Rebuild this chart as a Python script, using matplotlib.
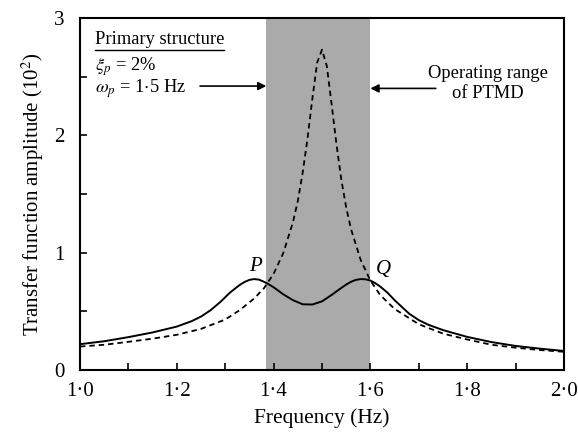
import matplotlib
matplotlib.use("Agg")
import matplotlib.pyplot as plt
from matplotlib.ticker import MultipleLocator, FuncFormatter

plt.rcParams['font.family'] = ['Liberation Serif', 'DejaVu Serif']
plt.rcParams['mathtext.fontset'] = 'stix'

# Uncontrolled primary structure (dashed)
freq_primary = [1.00, 1.05, 1.10, 1.15, 1.20, 1.25, 1.30, 1.33, 1.36, 1.38,
                1.40, 1.42, 1.44, 1.45, 1.46, 1.47, 1.48, 1.49, 1.50, 1.51,
                1.52, 1.53, 1.54, 1.55, 1.56, 1.58, 1.60, 1.62, 1.65, 1.70,
                1.75, 1.80, 1.85, 1.90, 1.95, 2.00]
amp_primary = [0.20, 0.215, 0.24, 0.267, 0.30, 0.35, 0.43, 0.51, 0.61, 0.696,
               0.82, 0.996, 1.26, 1.44, 1.68, 1.97, 2.31, 2.62, 2.73, 2.59,
               2.26, 1.92, 1.62, 1.385, 1.20, 0.937, 0.762, 0.64, 0.52, 0.39,
               0.31, 0.26, 0.215, 0.19, 0.17, 0.155]

# Structure with PTMD (solid)
freq_ptmd = [1.00, 1.05, 1.10, 1.15, 1.20, 1.23, 1.25, 1.27, 1.29, 1.31,
             1.33, 1.34, 1.35, 1.36, 1.37, 1.38, 1.39, 1.40, 1.42, 1.44,
             1.46, 1.48, 1.50, 1.52, 1.54, 1.55, 1.56, 1.57, 1.58, 1.59,
             1.60, 1.61, 1.62, 1.635, 1.65, 1.68, 1.70, 1.72, 1.75, 1.80,
             1.85, 1.90, 1.95, 2.00]
amp_ptmd = [0.22, 0.245, 0.28, 0.32, 0.37, 0.415, 0.455, 0.51, 0.58, 0.66,
            0.725, 0.75, 0.768, 0.775, 0.77, 0.752, 0.73, 0.705, 0.645, 0.595,
            0.56, 0.558, 0.585, 0.64, 0.70, 0.728, 0.752, 0.768, 0.775, 0.773,
            0.762, 0.74, 0.712, 0.66, 0.595, 0.48, 0.425, 0.385, 0.34, 0.282,
            0.238, 0.205, 0.182, 0.162]

band = (1.385, 1.60)

fig = plt.figure(figsize=(5.78, 4.34), dpi=100)
ax = fig.add_axes([0.1384, 0.1475, 0.8374, 0.811])

ax.axvspan(band[0], band[1], color='#aaaaaa', lw=0, zorder=0)
ax.plot(freq_primary, amp_primary, color='black', lw=1.3, dashes=(3.0, 2.2))
ax.plot(freq_ptmd, amp_ptmd, color='black', lw=1.4)

ax.set_xlim(1.0, 2.0)
ax.set_ylim(0, 3)
ax.xaxis.set_major_locator(MultipleLocator(0.2))
ax.xaxis.set_minor_locator(MultipleLocator(0.1))
ax.yaxis.set_major_locator(MultipleLocator(1))
ax.yaxis.set_minor_locator(MultipleLocator(0.5))
ax.xaxis.set_major_formatter(FuncFormatter(lambda v, p: f"{v:.1f}".replace('.', '\u00b7')))
ax.yaxis.set_major_formatter(FuncFormatter(lambda v, p: f"{v:.0f}"))
ax.tick_params(which='both', direction='in', labelsize=15, width=1.2)
ax.tick_params(axis='x', pad=9)
ax.tick_params(axis='y', pad=11)
ax.tick_params(which='major', length=5)
ax.tick_params(which='minor', length=5)
for s in ax.spines.values():
    s.set_linewidth(1.5)

ax.set_xlabel('Frequency (Hz)', fontsize=15.5, labelpad=5)
ax.set_ylabel('Transfer function amplitude (10$^2$)', fontsize=15, labelpad=6)

# annotations
ax.text(1.031, 2.82, 'Primary structure', fontsize=13.3, va='center')
ax.plot([1.031, 1.297], [2.73, 2.73], color='black', lw=1.0)
ax.text(1.031, 2.585, r'$\xi_p$ = 2%', fontsize=13.3, va='center')
ax.text(1.031, 2.40, r'$\omega_p$ = 1$\cdot$5 Hz', fontsize=13.3, va='center')
ax.annotate('', xy=(band[0], 2.42), xytext=(1.248, 2.42),
            arrowprops=dict(arrowstyle='-|>', color='black', lw=1.2,
                            mutation_scale=12, shrinkA=0, shrinkB=0))
ax.text(1.842, 2.44, 'Operating range\nof PTMD', fontsize=13.3,
        ha='center', va='center', linespacing=1.25)
ax.annotate('', xy=(band[1], 2.40), xytext=(1.735, 2.40),
            arrowprops=dict(arrowstyle='-|>', color='black', lw=1.2,
                            mutation_scale=12, shrinkA=0, shrinkB=0))
ax.text(1.362, 0.88, 'P', fontsize=15, style='italic', ha='center', va='center')
ax.text(1.627, 0.86, 'Q', fontsize=15, style='italic', ha='center', va='center')

fig.savefig('out.png', dpi=100)
